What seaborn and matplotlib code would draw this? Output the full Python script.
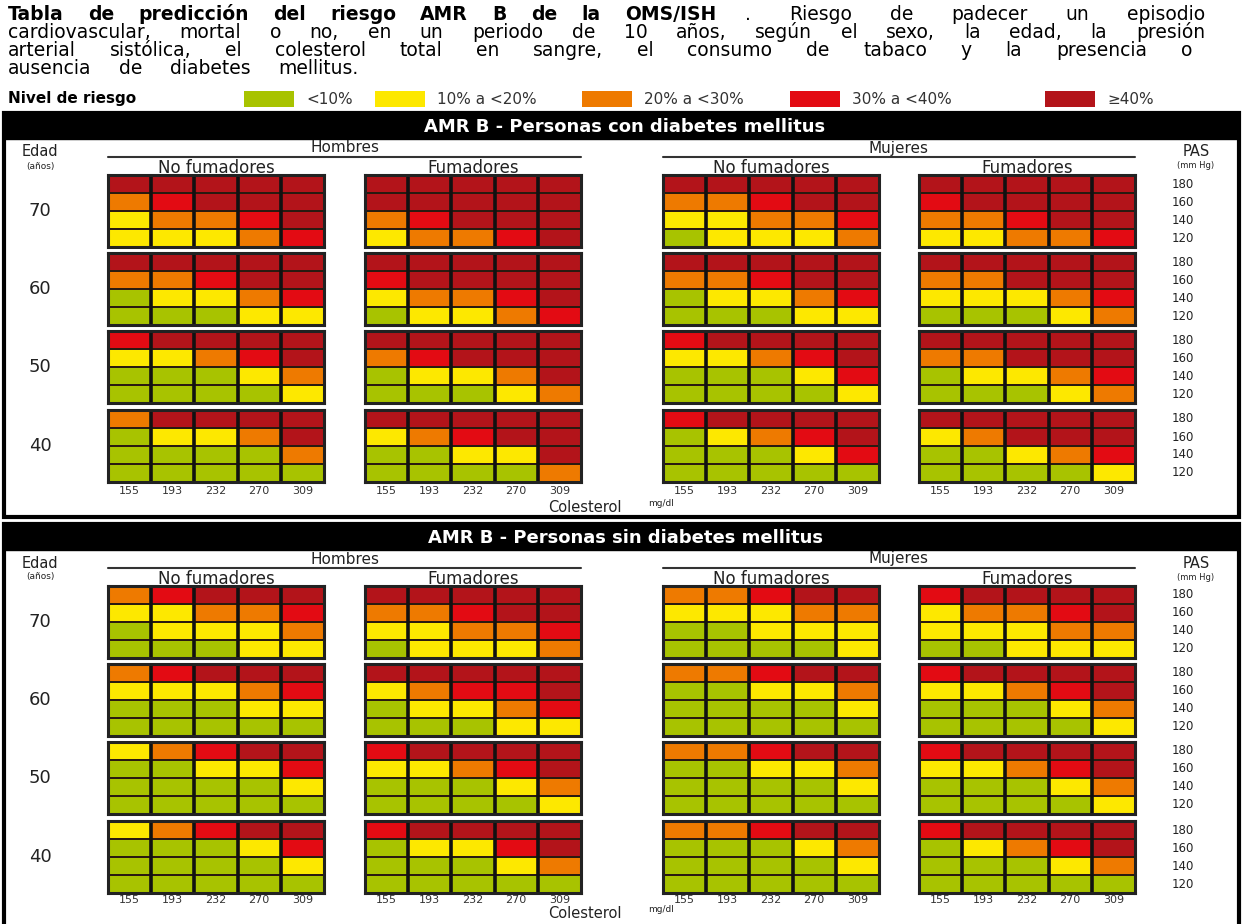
import numpy as np
import matplotlib
matplotlib.use("Agg")
import matplotlib.pyplot as plt
import seaborn as sns
from matplotlib.colors import ListedColormap
from matplotlib.patches import Rectangle
from matplotlib.lines import Line2D

W, H = 1243, 924

# niveles de riesgo: 0 <10%, 1 10-<20%, 2 20-<30%, 3 30-<40%, 4 >=40%
niveles = ["<10%", "10% a <20%", "20% a <30%", "30% a <40%", "≥40%"]
colores = ["#a8c300", "#fde800", "#ee7a00", "#e30b13", "#b3141a"]

edades = ["70", "60", "50", "40"]
pas = ["180", "160", "140", "120"]
colesterol = ["155", "193", "232", "270", "309"]
grupos = ["No fumadores", "Fumadores", "No fumadores", "Fumadores"]
secciones = ["AMR B - Personas con diabetes mellitus",
             "AMR B - Personas sin diabetes mellitus"]

# filas: edad 70, 60, 50, 40 x PAS 180, 160, 140, 120 ; columnas: colesterol
con_h_nf = [[4, 4, 4, 4, 4], [2, 3, 4, 4, 4], [1, 2, 2, 3, 4], [1, 1, 1, 2, 3],
            [4, 4, 4, 4, 4], [2, 2, 3, 4, 4], [0, 1, 1, 2, 3], [0, 0, 0, 1, 1],
            [3, 4, 4, 4, 4], [1, 1, 2, 3, 4], [0, 0, 0, 1, 2], [0, 0, 0, 0, 1],
            [2, 4, 4, 4, 4], [0, 1, 1, 2, 4], [0, 0, 0, 0, 2], [0, 0, 0, 0, 0]]
con_h_f = [[4, 4, 4, 4, 4], [4, 4, 4, 4, 4], [2, 3, 4, 4, 4], [1, 2, 2, 3, 4],
           [4, 4, 4, 4, 4], [3, 4, 4, 4, 4], [1, 2, 2, 3, 4], [0, 1, 1, 2, 3],
           [4, 4, 4, 4, 4], [2, 3, 4, 4, 4], [0, 1, 1, 2, 4], [0, 0, 0, 1, 2],
           [4, 4, 4, 4, 4], [1, 2, 3, 4, 4], [0, 0, 1, 1, 4], [0, 0, 0, 0, 2]]
con_m_nf = [[4, 4, 4, 4, 4], [2, 2, 3, 4, 4], [1, 1, 2, 2, 3], [0, 1, 1, 1, 2],
            [4, 4, 4, 4, 4], [2, 2, 3, 4, 4], [0, 1, 1, 2, 3], [0, 0, 0, 1, 1],
            [3, 4, 4, 4, 4], [1, 1, 2, 3, 4], [0, 0, 0, 1, 3], [0, 0, 0, 0, 1],
            [3, 4, 4, 4, 4], [0, 1, 2, 3, 4], [0, 0, 0, 1, 3], [0, 0, 0, 0, 0]]
con_m_f = [[4, 4, 4, 4, 4], [3, 4, 4, 4, 4], [2, 2, 3, 4, 4], [1, 1, 2, 2, 3],
           [4, 4, 4, 4, 4], [2, 2, 4, 4, 4], [1, 1, 1, 2, 3], [0, 0, 0, 1, 2],
           [4, 4, 4, 4, 4], [2, 2, 4, 4, 4], [0, 1, 1, 2, 3], [0, 0, 0, 1, 2],
           [4, 4, 4, 4, 4], [1, 2, 4, 4, 4], [0, 0, 1, 2, 3], [0, 0, 0, 0, 1]]

sin_h_nf = [[2, 3, 4, 4, 4], [1, 1, 2, 2, 3], [0, 1, 1, 1, 2], [0, 0, 0, 1, 1],
            [2, 3, 4, 4, 4], [1, 1, 1, 2, 3], [0, 0, 0, 1, 1], [0, 0, 0, 0, 0],
            [1, 2, 3, 4, 4], [0, 0, 1, 1, 3], [0, 0, 0, 0, 1], [0, 0, 0, 0, 0],
            [1, 2, 3, 4, 4], [0, 0, 0, 1, 3], [0, 0, 0, 0, 1], [0, 0, 0, 0, 0]]
sin_h_f = [[4, 4, 4, 4, 4], [2, 2, 3, 4, 4], [1, 1, 2, 2, 3], [0, 1, 1, 1, 2],
           [4, 4, 4, 4, 4], [1, 2, 3, 3, 4], [0, 1, 1, 2, 3], [0, 0, 0, 1, 1],
           [3, 4, 4, 4, 4], [1, 1, 2, 3, 4], [0, 0, 0, 1, 2], [0, 0, 0, 0, 1],
           [3, 4, 4, 4, 4], [0, 1, 1, 3, 4], [0, 0, 0, 1, 2], [0, 0, 0, 0, 0]]
sin_m_nf = [[2, 2, 3, 4, 4], [1, 1, 1, 2, 2], [0, 0, 1, 1, 1], [0, 0, 0, 0, 1],
            [2, 2, 3, 4, 4], [0, 0, 1, 1, 2], [0, 0, 0, 0, 1], [0, 0, 0, 0, 0],
            [2, 2, 3, 4, 4], [0, 0, 1, 1, 2], [0, 0, 0, 0, 1], [0, 0, 0, 0, 0],
            [2, 2, 3, 4, 4], [0, 0, 0, 1, 2], [0, 0, 0, 0, 1], [0, 0, 0, 0, 0]]
sin_m_f = [[3, 4, 4, 4, 4], [1, 2, 2, 3, 4], [1, 1, 1, 2, 2], [0, 0, 1, 1, 1],
           [3, 4, 4, 4, 4], [1, 1, 2, 3, 4], [0, 0, 0, 1, 2], [0, 0, 0, 0, 1],
           [3, 4, 4, 4, 4], [1, 1, 2, 3, 4], [0, 0, 0, 1, 2], [0, 0, 0, 0, 1],
           [3, 4, 4, 4, 4], [0, 1, 2, 3, 4], [0, 0, 0, 1, 2], [0, 0, 0, 0, 0]]

tablas = [[con_h_nf, con_h_f, con_m_nf, con_m_f],
          [sin_h_nf, sin_h_f, sin_m_nf, sin_m_f]]

sns.set_theme(style="white")
plt.rcParams["font.family"] = ["DejaVu Sans"]
cmap = ListedColormap(colores)

fig = plt.figure(figsize=(W / 100, H / 100), dpi=100)
fig.patch.set_facecolor("white")


def fx(x):
    return x / W


def fy(y):
    return 1 - y / H


def texto(x, y, s, **kw):
    kw.setdefault("ha", "center")
    kw.setdefault("va", "center")
    kw.setdefault("color", "#222222")
    return fig.text(fx(x), fy(y), s, **kw)


def caja(x0, y0, x1, y1, **kw):
    fig.add_artist(Rectangle((fx(x0), fy(y1)), (x1 - x0) / W, (y1 - y0) / H,
                             transform=fig.transFigure, **kw))


def justificar(palabras, x0, x1, y, **kw):
    # reparte las palabras entre x0 y x1 (texto justificado)
    ts = [fig.text(0, 0, p, ha="left", va="baseline", **kw) for p in palabras]
    r = fig.canvas.get_renderer()
    anchos = [t.get_window_extent(r).width for t in ts]
    hueco = (x1 - x0 - sum(anchos)) / max(len(ts) - 1, 1)
    x = x0
    for t, a in zip(ts, anchos):
        t.set_position((fx(x), fy(y)))
        x += a + hueco


# --- encabezado ---
fs_t = 13.5
justificar("Tabla de predicción del riesgo AMR B de la OMS/ISH".split(), 8, 716, 20,
           fontsize=fs_t, fontweight="bold", color="black")
justificar(". Riesgo de padecer un episodio".split(), 745, 1205, 20,
           fontsize=fs_t, color="black")
justificar("cardiovascular, mortal o no, en un periodo de 10 años, según el sexo, la edad, la presión".split(),
           8, 1205, 38, fontsize=fs_t, color="black")
justificar("arterial sistólica, el colesterol total en sangre, el consumo de tabaco y la presencia o".split(),
           8, 1192, 56, fontsize=fs_t, color="black")
justificar("ausencia de diabetes mellitus.".split(), 8, 358, 74, fontsize=fs_t, color="black")

# --- leyenda ---
texto(8, 99, "Nivel de riesgo", ha="left", fontsize=11, fontweight="bold", color="black")
sw_x = [244, 375, 582, 790, 1045]
for c, lab, x in zip(colores, niveles, sw_x):
    caja(x, 91, x + 50, 107, facecolor=c, edgecolor="none")
    texto(x + 62, 99, lab, ha="left", fontsize=11, color="#333333")

# --- paneles ---
px = [108, 365, 663, 919]
py = [175, 253, 331, 410]
pw, ph = 216, 72
sexo_x = [(108, 581, "Hombres"), (663, 1135, "Mujeres")]

for k, (titulo, datos4) in enumerate(zip(secciones, tablas)):
    d = 411 * k
    y_fin = 517 + d if k == 0 else 940
    caja(4, 113 + d, 1239, y_fin, facecolor="none", edgecolor="black", lw=3)
    caja(4, 113 + d, 1239, 139 + d, facecolor="black", edgecolor="black")
    texto(625, 127 + d, titulo, fontsize=13, fontweight="bold", color="white")

    texto(40, 152 + d, "Edad", fontsize=10.5)
    texto(40, 166 + d, "(años)", fontsize=6.5)
    texto(1196, 152 + d, "PAS", fontsize=10.5)
    texto(1196, 166 + d, "(mm Hg)", fontsize=6)
    for x0, x1, lab in sexo_x:
        texto((x0 + x1) / 2, 148 + d, lab, fontsize=11)
        fig.add_artist(Line2D([fx(x0), fx(x1)], [fy(157 + d)] * 2,
                              transform=fig.transFigure, color="#333333", lw=1.5))

    y_tick = 491 if k == 0 else 900
    for g, datos in enumerate(datos4):
        texto(px[g] + pw / 2, 168 + d, grupos[g], fontsize=12)
        for i, edad in enumerate(edades):
            y0 = py[i] + d
            ax = fig.add_axes([fx(px[g]), fy(y0 + ph), pw / W, ph / H])
            sns.heatmap(np.array(datos[4 * i:4 * i + 4]), ax=ax, cmap=cmap,
                        vmin=-0.5, vmax=4.5, cbar=False, linewidths=1.2,
                        linecolor="#2a1a10", xticklabels=False, yticklabels=False)
            ax.vlines(range(1, 5), 0, 4, colors="#111111", lw=2.6)
            for s in ax.spines.values():
                s.set_visible(True)
                s.set_linewidth(2.2)
                s.set_color("#222222")
            if g == 0:
                texto(40, y0 + ph / 2, edad, fontsize=13)
            if g == 3:
                for j, p in enumerate(pas):
                    texto(1183, y0 + (j + 0.5) * ph / 4, p, fontsize=8.5)
        for j, c in enumerate(colesterol):
            texto(px[g] + (j + 0.5) * pw / 5, y_tick, c, fontsize=8, color="#333333")

    y_col = 508 if k == 0 else 914
    texto(585, y_col, "Colesterol", fontsize=10.5)
    texto(648, y_col - 4, "mg/dl", ha="left", fontsize=6.5)

fig.savefig("out.png", dpi=100, facecolor="white")
